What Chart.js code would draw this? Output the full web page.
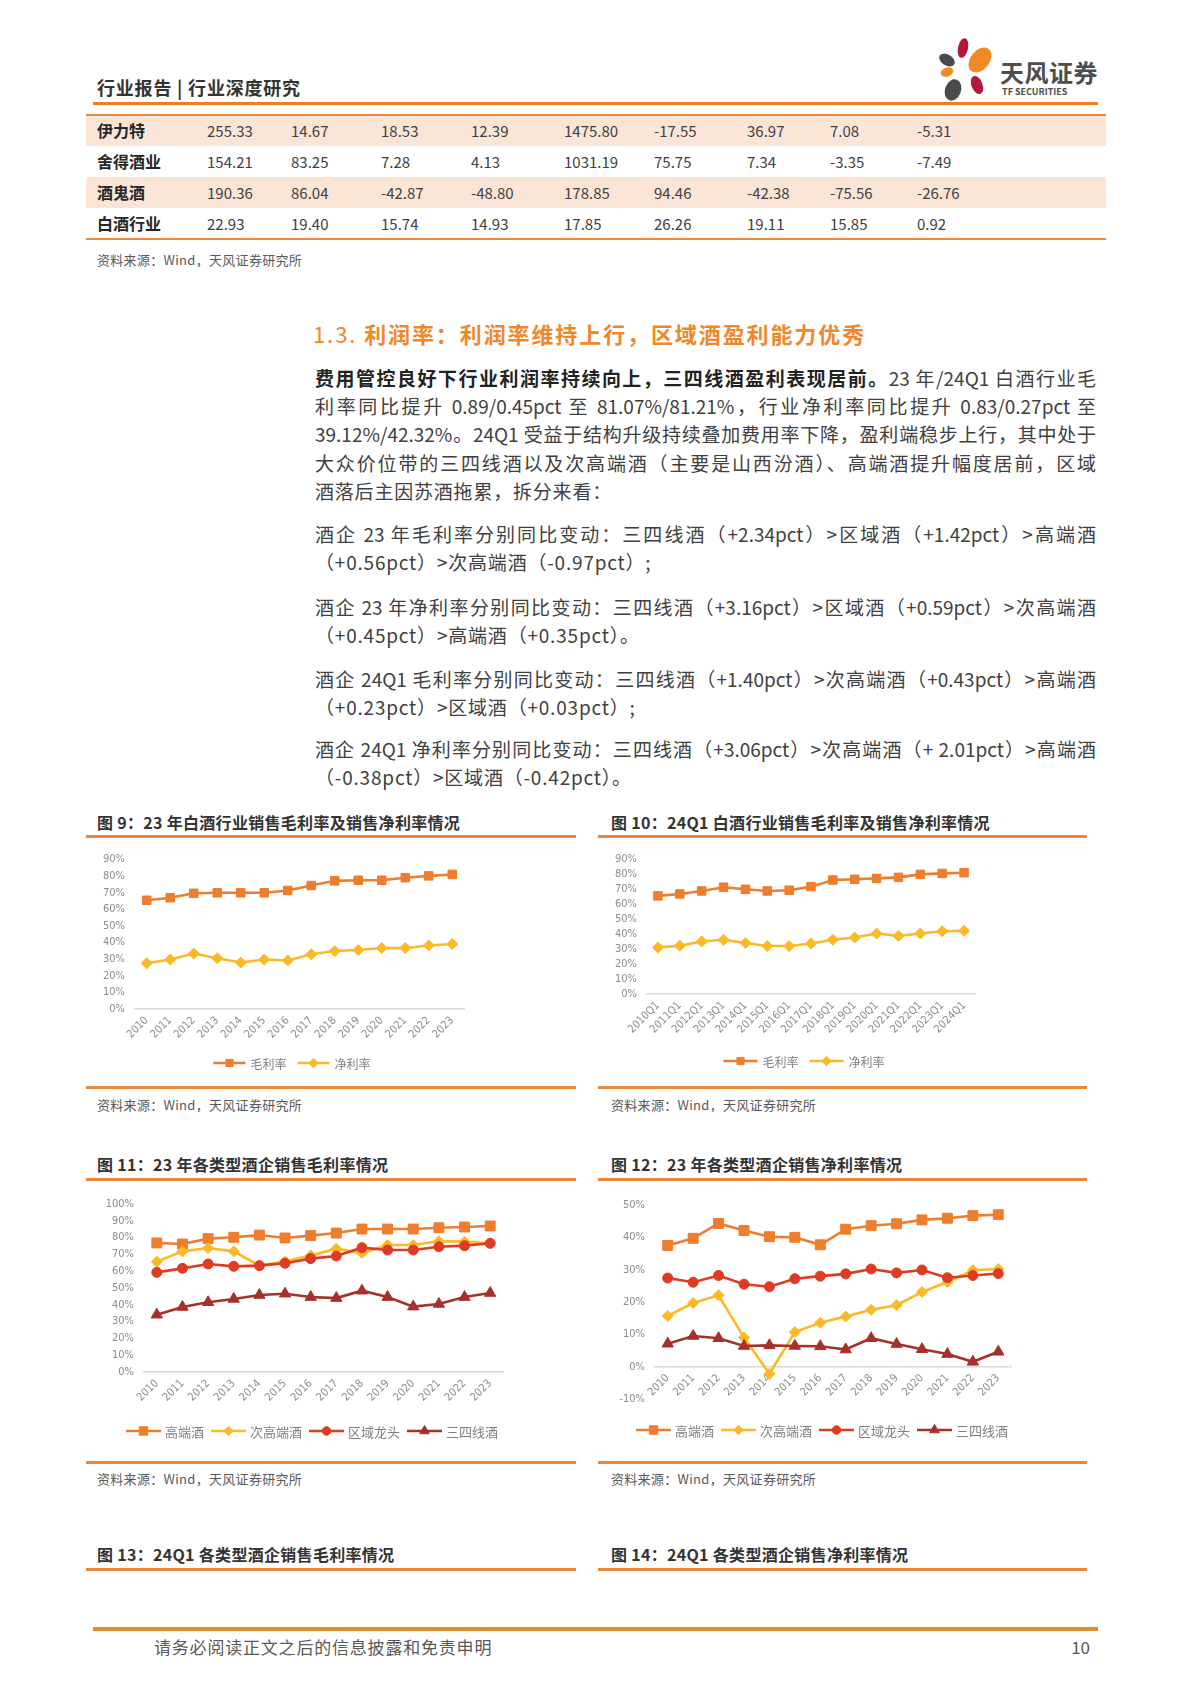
<!DOCTYPE html>
<html>
<head>
<meta charset="utf-8">
<script src="https://cdn.jsdelivr.net/npm/chart.js"></script>
<style>
  html, body { margin: 0; padding: 0; background: #fff; }
  body { width: 1191px; height: 1684px; position: relative; overflow: hidden; font-family: "Noto Sans CJK SC", "Noto Sans", sans-serif; color: #404040; }
  .abs { position: absolute; }
  .hline { position: absolute; height: 3px; background: #e9883a; }
  .head { left: 97px; top: 74px; font-size: 18px; font-weight: bold; color: #333; letter-spacing: 0.8px; }
  .trow { position: absolute; left: 86px; width: 1020px; height: 31px; line-height: 31px; }
  .trow span { position: absolute; top: 0; font-size: 15px; color: #404040; }
  .trow span.nm { font-size: 16px; font-weight: bold; color: #262626; }
  .src { position: absolute; font-size: 13px; color: #595959; letter-spacing: 0.3px; line-height: 18px; }
  .h2 { left: 313px; top: 318px; font-size: 22px; font-weight: bold; color: #f0872a; letter-spacing: 1.9px; line-height: 30px; }
  .para { position: absolute; left: 315px; width: 781px; font-size: 19px; line-height: 28.2px; color: #404040; }
  .ln { text-align: justify; text-align-last: justify; }
  .ln.last { text-align-last: left; letter-spacing: 0.8px; }
  .para b { color: #222; }
  .cap { position: absolute; font-size: 16px; font-weight: bold; color: #333; letter-spacing: 0.3px; line-height: 22px; }
  .box { position: absolute; }
  .foot { left: 154px; top: 1634px; font-size: 17px; color: #595959; letter-spacing: 0.8px; }
  .pno { left: 1060px; width: 30px; text-align: right; top: 1634px; font-size: 17px; color: #595959; }
</style>
</head>
<body>

<!-- 页眉 -->
<div class="abs head">行业报告 | 行业深度研究</div>
<svg class="abs" style="left:935px;top:36px" width="70" height="68">
  <ellipse cx="28" cy="12" rx="5" ry="10" fill="#b3173c" transform="rotate(12 28 12)"/>
  <ellipse cx="12" cy="24" rx="8.5" ry="5.5" fill="#4a4a4a" transform="rotate(30 12 24)"/>
  <ellipse cx="45" cy="24" rx="9.5" ry="14" fill="#f08a24" transform="rotate(38 45 24)"/>
  <ellipse cx="12" cy="36" rx="6.5" ry="4.5" fill="#f08a24" transform="rotate(-20 12 36)"/>
  <ellipse cx="42" cy="49" rx="5.5" ry="9.5" fill="#b3173c" transform="rotate(-22 42 49)"/>
  <ellipse cx="18" cy="54" rx="8" ry="11" fill="#4a4a4a" transform="rotate(20 18 54)"/>
</svg>
<div class="abs" style="left:1000px;top:57px;font-size:24px;font-weight:bold;color:#4d4d4d;line-height:30px;letter-spacing:0.5px">天风证券</div>
<div class="abs" style="left:1002px;top:86px;font-size:9px;font-weight:bold;color:#4d4d4d;line-height:12px">TF SECURITIES</div>
<div class="hline" style="left:93px;top:102px;width:1005px;background:#ed7d23"></div>

<!-- 表格 -->
<div id="table"></div>
<div class="src" style="left:97px;top:251px">资料来源：Wind，天风证券研究所</div>

<!-- 正文 -->
<div class="abs h2"><span style="font-weight:normal">1.3.</span> 利润率：利润率维持上行，区域酒盈利能力优秀</div>

<div class="para" style="top:364px">
  <div class="ln"><b>费用管控良好下行业利润率持续向上，三四线酒盈利表现居前。</b>23 年/24Q1 白酒行业毛</div>
  <div class="ln">利率同比提升 0.89/0.45pct 至 81.07%/81.21%，行业净利率同比提升 0.83/0.27pct 至</div>
  <div class="ln">39.12%/42.32%。24Q1 受益于结构升级持续叠加费用率下降，盈利端稳步上行，其中处于</div>
  <div class="ln">大众价位带的三四线酒以及次高端酒（主要是山西汾酒）、高端酒提升幅度居前，区域</div>
  <div class="ln last">酒落后主因苏酒拖累，拆分来看：</div>
</div>
<div class="para" style="top:520px">
  <div class="ln">酒企 23 年毛利率分别同比变动：三四线酒（+2.34pct）>区域酒（+1.42pct）>高端酒</div>
  <div class="ln last">（+0.56pct）>次高端酒（-0.97pct）;</div>
</div>
<div class="para" style="top:593px">
  <div class="ln">酒企 23 年净利率分别同比变动：三四线酒（+3.16pct）>区域酒（+0.59pct）>次高端酒</div>
  <div class="ln last">（+0.45pct）>高端酒（+0.35pct）。</div>
</div>
<div class="para" style="top:665px">
  <div class="ln">酒企 24Q1 毛利率分别同比变动：三四线酒（+1.40pct）>次高端酒（+0.43pct）>高端酒</div>
  <div class="ln last">（+0.23pct）>区域酒（+0.03pct）;</div>
</div>
<div class="para" style="top:735px">
  <div class="ln">酒企 24Q1 净利率分别同比变动：三四线酒（+3.06pct）>次高端酒（+ 2.01pct）>高端酒</div>
  <div class="ln last">（-0.38pct）>区域酒（-0.42pct）。</div>
</div>

<!-- 图 9 / 图 10 -->
<div class="cap" style="left:97px;top:811px">图 9：23 年白酒行业销售毛利率及销售净利率情况</div>
<div class="cap" style="left:611px;top:811px">图 10：24Q1 白酒行业销售毛利率及销售净利率情况</div>
<div class="hline" style="left:86px;top:835px;width:490px"></div>
<div class="hline" style="left:598px;top:835px;width:489px"></div>
<div class="box" style="left:86px;top:843px;width:489px;height:235px"><canvas id="c9"></canvas></div>
<div class="box" style="left:598px;top:843px;width:487px;height:235px"><canvas id="c10"></canvas></div>
<div class="hline" style="left:86px;top:1086px;width:490px"></div>
<div class="hline" style="left:598px;top:1086px;width:489px"></div>
<div class="src" style="left:97px;top:1096px">资料来源：Wind，天风证券研究所</div>
<div class="src" style="left:611px;top:1096px">资料来源：Wind，天风证券研究所</div>

<!-- 图 11 / 图 12 -->
<div class="cap" style="left:97px;top:1153px">图 11：23 年各类型酒企销售毛利率情况</div>
<div class="cap" style="left:611px;top:1153px">图 12：23 年各类型酒企销售净利率情况</div>
<div class="hline" style="left:86px;top:1178px;width:490px"></div>
<div class="hline" style="left:598px;top:1178px;width:489px"></div>
<div class="box" style="left:86px;top:1185px;width:489px;height:262px"><canvas id="c11"></canvas></div>
<div class="box" style="left:598px;top:1185px;width:487px;height:262px"><canvas id="c12"></canvas></div>
<div class="hline" style="left:86px;top:1461px;width:490px"></div>
<div class="hline" style="left:598px;top:1461px;width:489px"></div>
<div class="src" style="left:97px;top:1470px">资料来源：Wind，天风证券研究所</div>
<div class="src" style="left:611px;top:1470px">资料来源：Wind，天风证券研究所</div>

<!-- 图 13 / 图 14 标题 -->
<div class="cap" style="left:97px;top:1543px">图 13：24Q1 各类型酒企销售毛利率情况</div>
<div class="cap" style="left:611px;top:1543px">图 14：24Q1 各类型酒企销售净利率情况</div>
<div class="hline" style="left:86px;top:1568px;width:490px"></div>
<div class="hline" style="left:598px;top:1568px;width:489px"></div>

<!-- 页脚 -->
<div class="hline" style="left:93px;top:1627px;width:1005px;height:4px;background:#dc8f2c"></div>
<div class="abs foot">请务必阅读正文之后的信息披露和免责申明</div>
<div class="abs pno">10</div>

<script>
// 表格数据
var tableRows = [
  ["伊力特", "255.33", "14.67", "18.53", "12.39", "1475.80", "-17.55", "36.97", "7.08", "-5.31"],
  ["舍得酒业", "154.21", "83.25", "7.28", "4.13", "1031.19", "75.75", "7.34", "-3.35", "-7.49"],
  ["酒鬼酒", "190.36", "86.04", "-42.87", "-48.80", "178.85", "94.46", "-42.38", "-75.56", "-26.76"],
  ["白酒行业", "22.93", "19.40", "15.74", "14.93", "17.85", "26.26", "19.11", "15.85", "0.92"]
];
var tableCols = [11, 121, 205, 295, 385, 478, 568, 661, 744, 831];

// 图 9：23 年白酒行业
var years = ["2010", "2011", "2012", "2013", "2014", "2015", "2016", "2017", "2018", "2019", "2020", "2021", "2022", "2023"];
var grossYear = [65.5, 67.0, 69.7, 70.0, 70.0, 70.0, 71.4, 74.4, 77.2, 77.6, 77.6, 79.1, 80.2, 81.07];
var netYear = [27.6, 29.8, 33.4, 30.6, 28.0, 29.8, 29.2, 33.0, 34.9, 35.5, 36.7, 36.7, 38.3, 39.12];

// 图 10：24Q1 白酒行业
var quarters = ["2010Q1", "2011Q1", "2012Q1", "2013Q1", "2014Q1", "2015Q1", "2016Q1", "2017Q1", "2018Q1", "2019Q1", "2020Q1", "2021Q1", "2022Q1", "2023Q1", "2024Q1"];
var grossQ1 = [65.7, 67.0, 69.0, 71.5, 70.1, 69.0, 69.5, 71.9, 76.3, 76.8, 77.4, 78.1, 80.1, 80.76, 81.21];
var netQ1 = [31.2, 32.3, 35.2, 36.3, 34.1, 32.1, 32.1, 33.8, 36.3, 37.8, 40.5, 38.9, 40.5, 42.05, 42.32];

// 图 11：各类型酒企毛利率
var highGross = [76.8, 76.2, 79.4, 80.2, 81.5, 79.8, 81.2, 82.7, 85.1, 85.1, 85.1, 85.9, 86.3, 86.9];
var subGross = [65.7, 71.8, 73.8, 71.8, 63.3, 65.9, 69.4, 73.4, 70.8, 75.6, 75.6, 77.8, 77.6, 76.6];
var regionGross = [59.3, 61.7, 64.3, 62.9, 63.3, 64.7, 67.5, 69.0, 74.0, 72.6, 72.6, 74.6, 75.2, 76.6];
var tierGross = [34.1, 38.7, 41.5, 43.5, 45.8, 46.6, 44.6, 44.0, 48.4, 44.6, 38.9, 40.5, 44.6, 47.0];

// 图 12：各类型酒企净利率
var highNet = [37.5, 39.7, 44.3, 42.1, 40.2, 40.0, 37.7, 42.5, 43.6, 44.2, 45.4, 45.9, 46.7, 47.0];
var subNet = [15.7, 19.7, 22.1, 9.0, -2.2, 10.7, 13.6, 15.5, 17.6, 19.0, 23.1, 26.2, 29.8, 30.2];
var regionNet = [27.4, 26.1, 28.2, 25.5, 24.7, 27.2, 28.0, 28.7, 30.2, 29.0, 29.9, 27.5, 28.2, 28.8];
var tierNet = [7.1, 9.5, 8.8, 6.4, 6.6, 6.4, 6.3, 5.3, 8.8, 7.0, 5.4, 3.9, 1.5, 4.6];

var ORANGE = "#ee7d2d";
var GOLD = "#fdb825";
var RED = "#de3b22";
var DARKRED = "#a8302a";

// 画表格
var tableEl = document.getElementById("table");
tableRows.forEach(function(row, r) {
  var div = document.createElement("div");
  div.className = "trow";
  div.style.top = (115 + r * 31) + "px";
  if (r % 2 === 0) div.style.background = "#fbe5d7";
  row.forEach(function(cell, c) {
    var s = document.createElement("span");
    if (c === 0) s.className = "nm";
    s.style.left = tableCols[c] + "px";
    s.textContent = cell;
    div.appendChild(s);
  });
  tableEl.appendChild(div);
});
var tTop = document.createElement("div");
tTop.className = "hline";
tTop.style.cssText = "left:86px;top:114px;width:1020px;height:2px;";
tableEl.appendChild(tTop);
var tBot = document.createElement("div");
tBot.className = "hline";
tBot.style.cssText = "left:86px;top:238px;width:1020px;height:2px;";
tableEl.appendChild(tBot);

// 图例：线段加标记，仿 Excel
var lineLegend = {
  id: "lineLegend",
  afterDraw: function(chart) {
    var o = chart.options.plugins.lineLegend;
    if (!o) return;
    var ctx = chart.ctx;
    ctx.save();
    ctx.font = o.size + 'px "Noto Sans CJK SC"';
    ctx.textBaseline = "middle";
    ctx.textAlign = "left";
    var sets = chart.data.datasets;
    var widths = sets.map(function(d) { return o.seg + o.gap + ctx.measureText(d.label).width; });
    var total = widths.reduce(function(a, b) { return a + b; }, 0) + o.spacing * (sets.length - 1);
    var x = o.x - total / 2;
    sets.forEach(function(d, i) {
      ctx.strokeStyle = d.borderColor;
      ctx.lineWidth = d.borderWidth;
      ctx.beginPath();
      ctx.moveTo(x, o.y);
      ctx.lineTo(x + o.seg, o.y);
      ctx.stroke();
      ctx.fillStyle = d.backgroundColor;
      ctx.lineWidth = 1;
      if (Chart.helpers && Chart.helpers.drawPoint) {
        Chart.helpers.drawPoint(ctx, { pointStyle: d.pointStyle, radius: d.pointRadius * 0.85, rotation: 0, borderWidth: 1 }, x + o.seg / 2, o.y);
      }
      ctx.fillStyle = "#7f7f7f";
      ctx.fillText(d.label, x + o.seg + o.gap, o.y + 1);
      x += widths[i] + o.spacing;
    });
    ctx.restore();
  }
};

function series(label, data, color, style, radius, order) {
  return {
    label: label, data: data,
    borderColor: color, backgroundColor: color,
    pointBackgroundColor: color, pointBorderColor: color,
    pointStyle: style, pointRadius: radius, pointBorderWidth: 1,
    borderWidth: 2.6, tension: 0, order: order
  };
}

var tickFont = { family: '"Liberation Sans Narrow", "DejaVu Sans Condensed", "Noto Sans CJK SC"', size: 11 };

function makeChart(id, labels, datasets, cfg) {
  new Chart(document.getElementById(id), {
    type: "line",
    data: { labels: labels, datasets: datasets },
    plugins: [lineLegend],
    options: {
      responsive: true,
      maintainAspectRatio: false,
      animation: false,
      layout: { padding: cfg.padding },
      plugins: {
        legend: { display: false },
        tooltip: { enabled: false },
        lineLegend: cfg.legend
      },
      scales: {
        x: {
          position: cfg.xPos || "bottom",
          offset: true,
          grid: { display: false, drawTicks: false },
          border: { display: true, color: "#d9d9d9", width: 1.5 },
          ticks: { autoSkip: false, minRotation: 45, maxRotation: 45, color: "#8c8c8c", font: tickFont, padding: 5 },
          afterFit: function(s) { if (cfg.xHeight) s.height = cfg.xHeight; }
        },
        y: {
          min: cfg.min, max: cfg.max,
          grid: { display: false, drawTicks: false },
          border: { display: false },
          ticks: { stepSize: 10, autoSkip: false, color: "#8c8c8c", font: tickFont, padding: 10, callback: function(v) { return v + "%"; } },
          afterFit: function(s) { s.width = cfg.yWidth; }
        }
      }
    }
  });
}

makeChart("c9", years, [
  series("毛利率", grossYear, ORANGE, "rect", 6, 2),
  series("净利率", netYear, GOLD, "rectRot", 5.5, 1)
], { min: 0, max: 90, yWidth: 49, xHeight: 40, padding: { left: 0, right: 111, top: 14, bottom: 29 },
     legend: { x: 206, y: 220, size: 12, seg: 32, gap: 5, spacing: 11 } });

makeChart("c10", quarters, [
  series("毛利率", grossQ1, ORANGE, "rect", 6, 2),
  series("净利率", netQ1, GOLD, "rectRot", 5.5, 1)
], { min: 0, max: 90, yWidth: 49, xHeight: 55, padding: { left: 0, right: 110, top: 15, bottom: 29 },
     legend: { x: 206, y: 218, size: 12, seg: 34, gap: 5, spacing: 11 } });

makeChart("c11", years, [
  series("高端酒", highGross, ORANGE, "rect", 7, 4),
  series("次高端酒", subGross, GOLD, "rectRot", 5.5, 3),
  series("区域龙头", regionGross, RED, "circle", 5, 2),
  series("三四线酒", tierGross, DARKRED, "triangle", 6.5, 1)
], { min: 0, max: 100, yWidth: 58, xHeight: 45, padding: { left: 0, right: 72, top: 19, bottom: 30 },
     legend: { x: 226, y: 246, size: 13, seg: 35, gap: 4, spacing: 7 } });

makeChart("c12", years, [
  series("高端酒", highNet, ORANGE, "rect", 7, 4),
  series("次高端酒", subNet, GOLD, "rectRot", 5.5, 3),
  series("区域龙头", regionNet, RED, "circle", 5, 2),
  series("三四线酒", tierNet, DARKRED, "triangle", 6.5, 1)
], { min: -10, max: 50, yWidth: 57, xPos: { y: 0 }, padding: { left: 0, right: 74, top: 20, bottom: 48 },
     legend: { x: 224, y: 245, size: 13, seg: 35, gap: 4, spacing: 7 } });
</script>
</body>
</html>
